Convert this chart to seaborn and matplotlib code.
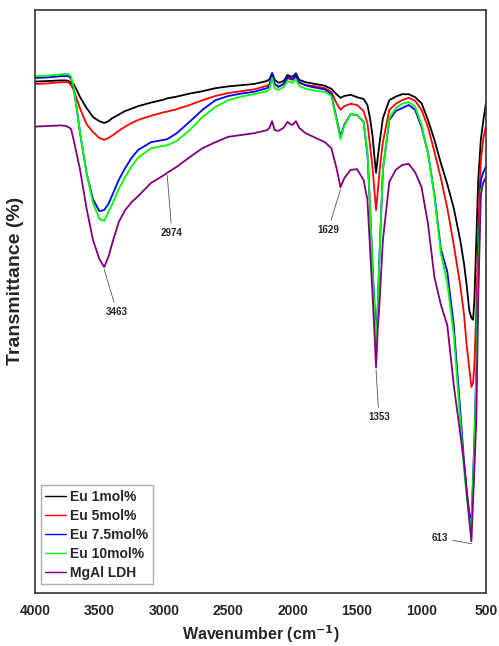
import numpy as np
import pandas as pd
import matplotlib
matplotlib.use("Agg")
import matplotlib.pyplot as plt
from matplotlib.ticker import MultipleLocator
import seaborn as sns

# FTIR spectra of Eu-doped MgAl LDH samples
wavenumber = [
    4000, 3900, 3800, 3760, 3740, 3720, 3700, 3680, 3650, 3600,
    3550, 3500, 3463, 3430, 3400, 3350, 3300, 3250, 3200, 3100,
    3000, 2974, 2900, 2800, 2700, 2600, 2500, 2400, 2300, 2200,
    2180, 2160, 2140, 2110, 2070, 2040, 2020, 2000, 1975, 1950,
    1900, 1850, 1800, 1750, 1700, 1660, 1629, 1600, 1550, 1500,
    1450, 1420, 1400, 1380, 1365, 1353, 1340, 1325, 1300, 1250,
    1200, 1150, 1100, 1050, 1000, 950, 900, 850, 800, 750,
    700, 670, 650, 630, 613, 600, 590, 575, 560, 540,
    520, 500,
]

eu_1 = [
    86.4, 86.5, 86.6, 86.6, 86.5, 86.2, 86.0, 85.2, 83.8, 82.0,
    80.5, 79.8, 79.5, 79.8, 80.3, 80.9, 81.5, 81.9, 82.3, 82.9,
    83.4, 83.6, 83.9, 84.4, 84.8, 85.3, 85.6, 85.8, 86.0, 86.5,
    86.8, 87.8, 86.7, 86.2, 86.5, 87.5, 87.3, 87.2, 87.8, 86.7,
    86.3, 86.1, 85.9, 85.7, 85.2, 84.3, 83.7, 84.0, 84.2, 83.8,
    83.5, 82.5, 80.3, 77.3, 73.7, 71.2, 73.7, 76.3, 80.3, 83.3,
    83.9, 84.3, 84.3, 83.8, 82.8, 80.0, 76.7, 72.8, 69.3, 65.3,
    60.0, 56.0, 52.5, 48.3, 47.0, 46.7, 50.0, 60.0, 70.0, 76.7,
    80.0, 82.8,
]

eu_5 = [
    86.0, 86.1, 86.3, 86.3, 86.3, 85.8, 85.0, 83.8, 81.9, 79.3,
    78.0, 77.0, 76.7, 77.0, 77.4, 78.2, 78.9, 79.5, 80.0, 80.7,
    81.3, 81.4, 81.8, 82.5, 83.3, 84.0, 84.5, 84.8, 85.1, 85.7,
    86.0, 87.3, 86.0, 85.6, 86.0, 87.0, 86.8, 86.7, 87.2, 86.2,
    85.8, 85.7, 85.5, 85.3, 84.7, 82.8, 81.7, 82.3, 82.7, 82.5,
    81.5, 79.5, 75.8, 72.0, 68.0, 65.0, 68.0, 71.7, 76.3, 81.7,
    82.7, 83.3, 83.7, 83.2, 81.7, 78.8, 74.7, 70.3, 65.3, 59.2,
    52.5, 47.5, 42.5, 38.7, 35.5, 36.2, 39.2, 48.3, 61.7, 73.3,
    77.0, 79.0,
]

eu_7_5 = [
    87.0, 87.1, 87.3, 87.3, 87.3, 86.9, 85.3, 82.5, 77.8, 71.2,
    66.8, 64.8, 65.0, 66.0, 67.5, 70.0, 72.0, 73.7, 75.0, 76.3,
    76.7, 76.8, 77.8, 79.7, 81.7, 83.3, 84.0, 84.4, 84.7, 85.3,
    85.7, 87.8, 86.0, 85.5, 86.0, 87.2, 87.0, 86.8, 87.5, 86.3,
    85.8, 85.5, 85.3, 85.1, 84.3, 80.3, 77.2, 79.2, 81.0, 80.8,
    79.7, 74.2, 65.7, 55.5, 49.2, 43.3, 49.2, 58.3, 71.7, 80.0,
    81.5, 82.0, 82.5, 81.7, 78.8, 74.5, 67.5, 58.5, 54.7, 45.8,
    31.7, 23.0, 18.3, 14.7, 12.8, 20.8, 26.7, 38.3, 56.7, 70.0,
    71.3, 72.3,
]

eu_10 = [
    87.3, 87.4, 87.6, 87.7, 87.6, 87.2, 85.5, 82.5, 77.8, 71.2,
    66.2, 63.5, 63.2, 64.7, 66.0, 68.5, 70.5, 72.3, 73.7, 75.3,
    75.7, 75.8, 76.5, 78.3, 80.5, 82.2, 83.3, 83.9, 84.3, 84.8,
    85.2, 87.0, 85.3, 85.0, 85.5, 86.5, 86.3, 86.2, 86.8, 85.7,
    85.2, 85.0, 84.8, 84.7, 84.0, 80.0, 76.8, 79.0, 81.0, 80.8,
    79.8, 74.7, 65.8, 55.3, 48.3, 42.2, 48.3, 58.0, 71.7, 80.3,
    82.0, 82.7, 83.0, 82.2, 79.2, 74.5, 67.3, 57.8, 52.8, 44.2,
    30.0, 21.7, 17.2, 13.8, 12.2, 20.0, 25.8, 37.5, 55.0, 68.3,
    69.5, 70.0,
]

mgal_ldh = [
    78.9, 79.0, 79.1, 79.0, 78.8, 78.5, 76.7, 74.7, 71.7, 65.3,
    60.0, 56.8, 55.5, 57.2, 59.5, 63.0, 65.0, 66.3, 67.3, 69.5,
    70.8, 71.2, 72.2, 73.8, 75.3, 76.3, 77.2, 77.5, 77.8, 78.3,
    78.7, 79.8, 78.3, 78.2, 78.7, 79.7, 79.3, 79.2, 79.8, 78.7,
    77.8, 77.3, 76.8, 76.3, 75.3, 72.0, 68.8, 70.3, 71.7, 71.8,
    70.0, 66.7, 58.7, 50.8, 44.2, 38.8, 45.0, 50.0, 60.0, 69.7,
    71.7, 72.5, 72.7, 71.3, 68.8, 62.7, 53.8, 49.2, 45.8, 35.8,
    27.8, 22.8, 18.3, 13.3, 9.8, 16.7, 21.7, 30.0, 50.0, 67.5,
    69.7, 70.5,
]

series_labels = ["Eu 1mol%", "Eu 5mol%", "Eu 7.5mol%", "Eu 10mol%", "MgAl LDH"]
series_colors = ["#000000", "#ff0000", "#0000ff", "#00ff00", "#800080"]

# peak assignments marked on the MgAl LDH spectrum: (peak, label x, label y)
peak_positions = [3463, 2974, 1629, 1353, 613]
peak_label_xy = [(3364, 48.0), (2937, 61.2), (1726, 61.7), (1331, 30.5), (857, 10.3)]

frames = []
for name, values in zip(series_labels,
                        [eu_1, eu_5, eu_7_5, eu_10, mgal_ldh]):
    frames.append(pd.DataFrame({"Wavenumber": wavenumber,
                                "Transmittance": values,
                                "Sample": name}))
df = pd.concat(frames, ignore_index=True)

sns.set_style("white")
plt.rcParams["font.family"] = ["Liberation Sans", "DejaVu Sans"]
plt.rcParams["font.weight"] = "bold"

fig = plt.figure(figsize=(4.99, 6.46), dpi=100)
ax = fig.add_axes([0.0701, 0.0820, 0.9038, 0.9025])

sns.lineplot(data=df, x="Wavenumber", y="Transmittance", hue="Sample",
             hue_order=series_labels, palette=series_colors,
             sort=False, estimator=None, linewidth=1.3, ax=ax)

ax.set_xlim(4000, 500)
ax.set_ylim(1.17, 98.33)

ax.xaxis.set_major_locator(MultipleLocator(500))
ax.xaxis.set_minor_locator(MultipleLocator(250))
ax.set_yticks([])
ax.tick_params(axis="x", which="major", direction="out", length=5,
               width=1.0, color="#333333", labelsize=10, pad=3)
ax.tick_params(axis="x", which="minor", direction="out", length=3,
               width=1.0, color="#333333")
for lbl in ax.get_xticklabels():
    lbl.set_fontweight("bold")

for side in ["left", "right", "top", "bottom"]:
    ax.spines[side].set_visible(True)
    ax.spines[side].set_color("#333333")
    ax.spines[side].set_linewidth(1.2)

ax.set_xlabel("Wavenumber (cm$^{\\mathbf{-1}}$)", fontsize=11.5,
              fontweight="bold", labelpad=4)
ax.set_ylabel("Transmittance (%)", fontsize=14, fontweight="bold")
ax.yaxis.set_label_coords(-0.024, 0.535)

# peak labels with leader lines
ldh_lookup = dict(zip(wavenumber, mgal_ldh))
for peak, (tx, ty) in zip(peak_positions, peak_label_xy):
    ax.annotate(str(peak), xy=(peak, ldh_lookup[peak] - 0.4),
                xytext=(tx, ty), ha="center", va="center",
                fontsize=7, fontweight="bold",
                arrowprops=dict(arrowstyle="-", color="#555555",
                                lw=0.6, shrinkA=1, shrinkB=0))

leg = ax.legend(loc="lower left", bbox_to_anchor=(0.014, 0.016),
                frameon=True, fancybox=False, fontsize=10,
                handlelength=1.45, handletextpad=0.35,
                labelspacing=0.36, borderpad=0.3, borderaxespad=0.0)
leg.get_frame().set_edgecolor("#999999")
leg.get_frame().set_linewidth(1.0)
for txt in leg.get_texts():
    txt.set_fontweight("bold")
for line in leg.get_lines():
    line.set_linewidth(1.0)

fig.savefig("out.png", dpi=100)
